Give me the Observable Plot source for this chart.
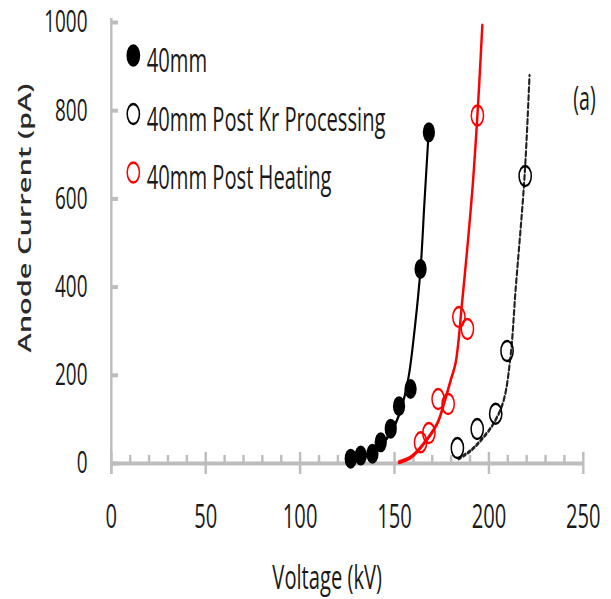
<!DOCTYPE html>
<html>
<head>
<meta charset="utf-8">
<script src="https://cdn.jsdelivr.net/npm/d3@7"></script>
<script src="https://cdn.jsdelivr.net/npm/@observablehq/plot@0.6"></script>
<style>
  html, body { margin: 0; padding: 0; background: #fff; }
  svg g[aria-label^="y-axis"] { font-size: 31px; }
</style>
</head>
<body>
<script>
// ---- tick values ----
const xTicks = [0, 50, 100, 150, 200, 250];
const xMinorTicks = [10, 20, 30, 40, 60, 70, 80, 90, 110, 120, 130, 140, 160, 170, 180, 190, 210, 220, 230, 240];
const yTicks = [0, 200, 400, 600, 800, 1000];

// ---- legend ----
const legendLabels = ["40mm", "40mm Post Kr Processing", "40mm Post Heating"];

// ---- series: 40mm (filled black) ----
const pts40x = [126.8, 132.1, 138.3, 142.7, 148.0, 152.4, 158.5, 163.8, 168.2];
const pts40y = [11, 18, 22, 48, 79, 130, 169, 441, 751];
const fit40x = [126.8, 138.4, 148.0, 153.2, 157.4, 160.6, 163.8, 165.9, 168.1];
const fit40y = [7, 25, 70, 120, 195, 302, 442, 596, 753];

// ---- series: 40mm Post Kr Processing (open black, dashed fit) ----
const ptsKrx = [183.3, 193.8, 203.6, 209.6, 219.2];
const ptsKry = [35, 78, 113, 255, 652];
const fitKrx = [184.0, 190.3, 195.6, 202.5, 207.8, 211.5, 214.1, 218.9, 221.5];
const fitKry = [11, 29, 52, 91, 143, 245, 392, 653, 880];

// ---- series: 40mm Post Heating (open red) ----
const ptsHeatx = [163.8, 168.2, 173.1, 178.4, 184.1, 188.6, 193.9];
const ptsHeaty = [48, 69, 146, 135, 332, 305, 789];
const fitHeatx = [152.4, 158.5, 163.8, 172.7, 176.2, 179.7, 182.4, 185.9, 191.2, 193.9, 196.5];
const fitHeaty = [3, 14, 36, 91, 136, 188, 229, 370, 619, 789, 993];

const W = 1000, H = 599;
const axisColor = "#bdbdbd";
const textColor = "#1a1a1a";

const legendMarks = [];
const legendStyles = [
  {fill: "black", stroke: "black"},
  {fill: "none", stroke: "black"},
  {fill: "none", stroke: "red"}
];
legendLabels.forEach((lab, i) => {
  legendMarks.push(Plot.dot([lab], {
    frameAnchor: "top-left", dx: 36, dy: 33 + i * 58.5, r: 10,
    fill: legendStyles[i].fill, stroke: legendStyles[i].stroke, strokeWidth: 2.5
  }));
  legendMarks.push(Plot.text([lab], {
    text: d => d, frameAnchor: "top-left", dx: 58, dy: 39 + i * 58.5,
    textAnchor: "start", lineAnchor: "middle", fontSize: 33, fill: textColor
  }));
});

const chart = Plot.plot({
  width: W,
  height: H,
  marginLeft: 181.7,
  marginRight: 45.8,
  marginTop: 22,
  marginBottom: 136,
  style: {fontFamily: "'Open Sans', sans-serif", fontSize: "33px", color: textColor, background: "white"},
  x: {domain: [0, 250], ticks: xTicks, tickSize: 0, tickPadding: 41, label: null, tickFormat: d => String(d)},
  y: {domain: [0, 1000], ticks: yTicks, tickSize: 0, tickPadding: 39, label: null, tickFormat: d => String(d)},
  marks: [
    // axis lines and ticks
    Plot.ruleY([0], {stroke: axisColor, strokeWidth: 4}),
    Plot.ruleX([0], {stroke: axisColor, strokeWidth: 4, insetTop: -4, insetBottom: -11}),
    Plot.ruleX(xTicks, {x: d => d, y1: 0, y2: 0, insetTop: -11, insetBottom: -11, stroke: axisColor, strokeWidth: 4}),
    Plot.ruleX(xMinorTicks, {x: d => d, y1: 0, y2: 0, insetTop: -8, insetBottom: 0, stroke: axisColor, strokeWidth: 4}),
    Plot.ruleY(yTicks, {y: d => d, x1: 0, x2: 0, insetRight: -11.5, stroke: axisColor, strokeWidth: 4}),

    // fit lines
    Plot.line(fit40y, {x: fit40x, y: fit40y, stroke: "black", strokeWidth: 3.5, curve: "catmull-rom"}),
    Plot.line(fitHeaty, {x: fitHeatx, y: fitHeaty, stroke: "red", strokeWidth: 4, curve: "catmull-rom"}),
    Plot.line(fitKry, {x: fitKrx, y: fitKry, stroke: "#222", strokeWidth: 3.5, strokeDasharray: "4,4", curve: "catmull-rom"}),

    // data points
    Plot.dot(pts40y, {x: pts40x, y: pts40y, r: 10, fill: "black"}),
    Plot.dot(ptsHeaty, {x: ptsHeatx, y: ptsHeaty, r: 10, fill: "none", stroke: "red", strokeWidth: 2.5}),
    Plot.dot(ptsKry, {x: ptsKrx, y: ptsKry, r: 10, fill: "none", stroke: "black", strokeWidth: 2.5}),

    // legend
    ...legendMarks,

    // axis titles and panel label
    Plot.text(["Voltage (kV)"], {text: d => d, frameAnchor: "bottom", dx: -33, dy: 115, textAnchor: "middle", lineAnchor: "middle", fontSize: 33, fill: textColor}),
    Plot.text(["Anode Current (pA)"], {text: d => d, frameAnchor: "left", dx: -141, dy: -25, rotate: -90, textAnchor: "middle", lineAnchor: "middle", fontSize: 29, fontWeight: 600, fill: "#2a2a2a"}),
    Plot.text(["(a)"], {text: d => d, frameAnchor: "top-right", dx: 2, dy: 77, textAnchor: "middle", lineAnchor: "middle", fontSize: 32, fill: textColor})
  ]
});

// The reference is horizontally compressed: draw at 1000 wide, show at 611 wide.
chart.setAttribute("width", 611);
chart.setAttribute("height", H);
chart.setAttribute("viewBox", `0 0 ${W} ${H}`);
chart.setAttribute("preserveAspectRatio", "none");
chart.style.width = "611px";
chart.style.height = H + "px";
chart.style.maxWidth = "none";
chart.style.display = "block";
document.body.append(chart);
</script>
</body>
</html>
